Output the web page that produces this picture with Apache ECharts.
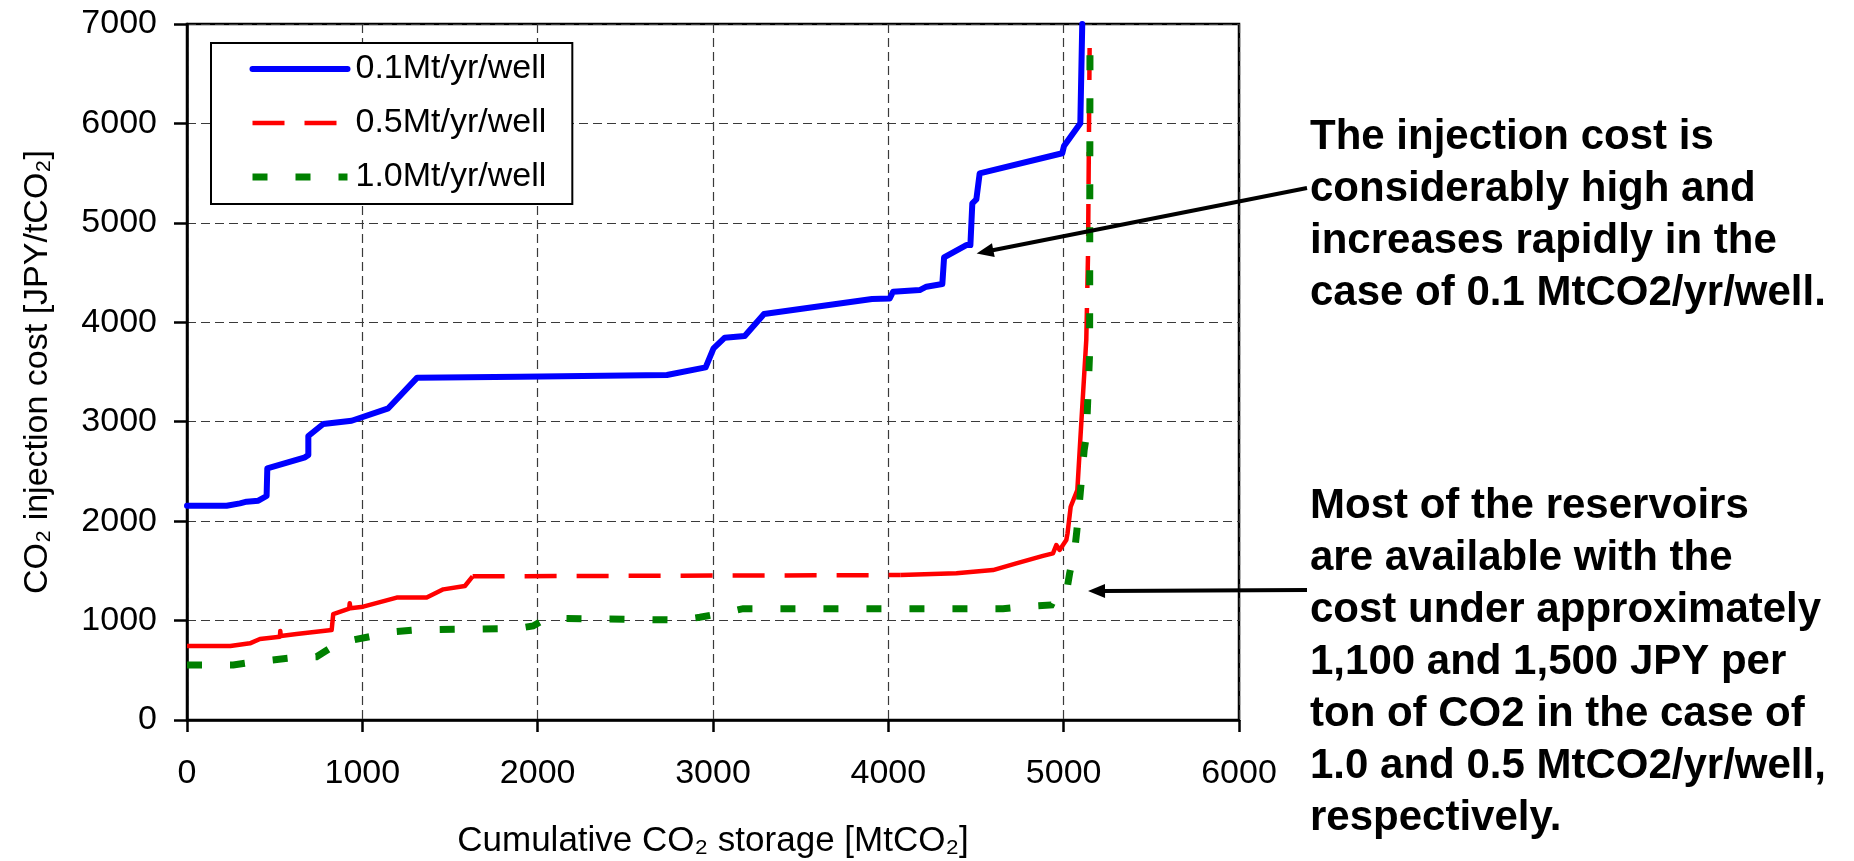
<!DOCTYPE html>
<html>
<head>
<meta charset="utf-8">
<title>CO2 injection cost curves</title>
<script src="https://cdn.jsdelivr.net/npm/echarts@6/dist/echarts.min.js"></script>
<style>
  html, body { margin: 0; padding: 0; background: #fff; }
  #chart { width: 1854px; height: 861px; }
</style>
</head>
<body>
<div id="chart"></div>
<script>
// Cumulative storage [MtCO2] vs. injection cost [JPY/tCO2], one curve per injection rate
const seriesNames = ['0.1Mt/yr/well', '0.5Mt/yr/well', '1.0Mt/yr/well'];

const curve01 = [
  [0, 2155], [226, 2155], [302, 2179], [340, 2196], [407, 2206], [454, 2253],
  [458, 2531], [673, 2642], [692, 2665], [692, 2856], [777, 2977], [939, 3010],
  [1148, 3135], [1313, 3443], [1899, 3453], [2737, 3470], [2958, 3547], [3003, 3738],
  [3067, 3845], [3181, 3862], [3291, 4083], [3907, 4234], [4008, 4240], [4027, 4307],
  [4179, 4324], [4217, 4358], [4308, 4385], [4318, 4653], [4445, 4777], [4468, 4777],
  [4479, 5196], [4502, 5236], [4521, 5498], [4992, 5700], [5002, 5773], [5095, 6001],
  [5106, 7000]
];

const curve05 = [
  [0, 744], [247, 744], [359, 771], [416, 815], [530, 838], [532, 895], [535, 845],
  [625, 865], [825, 905], [834, 1066], [925, 1120], [928, 1175], [932, 1125],
  [1005, 1140], [1196, 1231], [1367, 1231], [1462, 1314], [1585, 1348], [1629, 1445],
  [4071, 1458], [4388, 1475], [4597, 1508], [4730, 1575], [4882, 1650], [4939, 1676],
  [4958, 1760], [4977, 1710], [5015, 1810], [5022, 1877], [5040, 2145], [5078, 2313],
  [5097, 2883], [5129, 3822], [5139, 4693], [5148, 6760]
];
// stretches of the 0.5 curve drawn with long dashes (sparse points)
const curve05DashedSpans = [[1629, 4071], [5129, 5148]];

const curve10 = [
  [0, 553], [264, 553], [397, 587], [625, 630], [739, 637], [825, 731], [948, 805],
  [1062, 845], [1176, 888], [1290, 905], [1889, 922], [1974, 946], [2051, 1023],
  [2060, 1006], [2811, 1006], [2925, 1033], [3096, 1090], [3172, 1120], [4654, 1120],
  [4768, 1140], [4930, 1157], [4958, 1257], [5015, 1274], [5034, 1475], [5063, 1710],
  [5075, 1900], [5091, 2213], [5117, 2715], [5129, 2849], [5148, 3689], [5150, 6705],
  [5162, 6850]
];

const xTicks = [0, 1000, 2000, 3000, 4000, 5000, 6000];
const yTicks = [0, 1000, 2000, 3000, 4000, 5000, 6000, 7000];

const noteHigh = ['The injection cost is', 'considerably high and',
  'increases rapidly in the', 'case of 0.1 MtCO2/yr/well.'];
const noteLow = ['Most of the reservoirs', 'are available with the',
  'cost under approximately', '1,100 and 1,500 JPY per', 'ton of CO2 in the case of',
  '1.0 and 0.5 MtCO2/yr/well,', 'respectively.'];
// data points the two arrows point at
const arrowTargets = [[4498, 4693], [5139, 1307]];

const FONT = "'Liberation Sans', Arial, Helvetica, sans-serif";
const BLUE = '#0000ff', RED = '#ff0000', GREEN = '#008000';

const styleBlue = { color: BLUE, width: 6, type: 'solid', cap: 'round', join: 'round' };
const styleRedSolid = { color: RED, width: 4.5, type: 'solid', join: 'round' };
const styleRedDash = { color: RED, width: 4.5, type: [32, 20], join: 'round' };
const styleGreen = { color: GREEN, width: 7, type: [15, 28], join: 'miter' };

// split the 0.5 curve into runs of solid / dashed segments
function splitRuns(points, dashedSpans) {
  const isDashed = (a, b) => dashedSpans.some(s => a[0] >= s[0] && b[0] <= s[1]);
  const runs = [];
  for (let i = 0; i < points.length - 1; i++) {
    const d = isDashed(points[i], points[i + 1]);
    const last = runs[runs.length - 1];
    if (last && last.dashed === d) last.data.push(points[i + 1]);
    else runs.push({ dashed: d, data: [points[i], points[i + 1]] });
  }
  return runs;
}

function lineSeries(name, data, lineStyle) {
  return {
    type: 'line', name, data, symbol: 'none', showSymbol: false,
    lineStyle, itemStyle: { color: lineStyle.color }, clip: true,
    emphasis: { disabled: true }, silent: true, z: 3
  };
}

const redRuns = splitRuns(curve05, curve05DashedSpans);
// dashed runs first so the legend picks up the dashed style
redRuns.sort((a, b) => (b.dashed ? 1 : 0) - (a.dashed ? 1 : 0));

const series = [lineSeries(seriesNames[0], curve01, styleBlue)];
redRuns.forEach(r => series.push(lineSeries(seriesNames[1], r.data, r.dashed ? styleRedDash : styleRedSolid)));
series.push(lineSeries(seriesNames[2], curve10, styleGreen));

const gridLine = { show: true, lineStyle: { color: '#3a3a3a', width: 1.2, type: [9, 5] } };
const axisLine = { show: true, onZero: false, lineStyle: { color: '#000', width: 2.5 } };
const plainNumber = v => String(v);
const hiddenMarker = { opacity: 0, borderWidth: 0 };

const option = {
  animation: false,
  backgroundColor: '#fff',
  textStyle: { fontFamily: FONT },
  grid: {
    left: 187, right: 615, top: 24, bottom: 141,
    containLabel: false, outerBoundsMode: 'none',
    show: true, borderColor: '#000', borderWidth: 2.5, backgroundColor: 'transparent'
  },
  legend: {
    orient: 'vertical', left: 211, top: 43,
    padding: [9, 26, 10, 38],
    borderColor: '#000', borderWidth: 2, backgroundColor: '#fff',
    itemWidth: 95, itemHeight: 20, itemGap: 20,
    selectedMode: false,
    itemStyle: hiddenMarker,
    textStyle: { fontSize: 34, color: '#000', fontFamily: FONT, padding: [0, 0, 0, 3] },
    data: [
      { name: seriesNames[0], lineStyle: styleBlue, itemStyle: hiddenMarker },
      { name: seriesNames[1], lineStyle: styleRedDash, itemStyle: hiddenMarker },
      { name: seriesNames[2], lineStyle: styleGreen, itemStyle: hiddenMarker }
    ]
  },
  xAxis: {
    type: 'value', min: xTicks[0], max: xTicks[xTicks.length - 1], interval: 1000,
    name: 'Cumulative CO\u2082 storage [MtCO\u2082]',
    nameLocation: 'middle', nameGap: 104,
    nameTextStyle: { fontSize: 35, color: '#000', fontFamily: FONT },
    axisLine,
    axisTick: { show: true, length: 12, lineStyle: { color: '#000', width: 2.5 } },
    axisLabel: { fontSize: 34, color: '#000', margin: 37, fontFamily: FONT, formatter: plainNumber },
    splitLine: gridLine
  },
  yAxis: {
    type: 'value', min: yTicks[0], max: yTicks[yTicks.length - 1], interval: 1000,
    name: 'CO\u2082 injection cost [JPY/tCO\u2082]',
    nameLocation: 'middle', nameGap: 132, nameRotate: 90,
    nameTextStyle: { fontSize: 34, color: '#000', fontFamily: FONT },
    axisLine,
    axisTick: { show: true, length: 13, lineStyle: { color: '#000', width: 2.5 } },
    axisLabel: { fontSize: 34, color: '#000', margin: 30, fontFamily: FONT, formatter: plainNumber },
    splitLine: gridLine
  },
  series
};

const chart = echarts.init(document.getElementById('chart'), null, { renderer: 'canvas' });
chart.setOption(option);

// annotations: bold notes at the right with arrows pointing into the plot
function arrow(from, to) {
  const dx = to[0] - from[0], dy = to[1] - from[1];
  const len = Math.hypot(dx, dy), ux = dx / len, uy = dy / len;
  const headLen = 17, headHalf = 7;
  const bx = to[0] - ux * headLen, by = to[1] - uy * headLen;
  return [
    { type: 'line', shape: { x1: from[0], y1: from[1], x2: bx + ux * 2, y2: by + uy * 2 },
      style: { stroke: '#000', lineWidth: 4 }, z: 20, silent: true },
    { type: 'polygon', shape: { points: [
        [to[0], to[1]],
        [bx - uy * headHalf, by + ux * headHalf],
        [bx + uy * headHalf, by - ux * headHalf]] },
      style: { fill: '#000' }, z: 20, silent: true }
  ];
}

const tip1 = chart.convertToPixel({ gridIndex: 0 }, arrowTargets[0]);
const tip2 = chart.convertToPixel({ gridIndex: 0 }, arrowTargets[1]);

const noteStyle = { fontSize: 42, fontWeight: 'bold', fontFamily: FONT, fill: '#000', lineHeight: 52,
  textVerticalAlign: 'top', verticalAlign: 'top', align: 'left' };

chart.setOption({
  graphic: [
    { type: 'text', x: 1310, y: 111, z: 20, silent: true,
      style: Object.assign({ text: noteHigh.join('\n') }, noteStyle) },
    { type: 'text', x: 1310, y: 480, z: 20, silent: true,
      style: Object.assign({ text: noteLow.join('\n') }, noteStyle) },
    ...arrow([1307, 188], [tip1[0] + 1, tip1[1]]),
    ...arrow([1307, 590], [tip2[0], tip2[1] + 1])
  ]
});
</script>
</body>
</html>
